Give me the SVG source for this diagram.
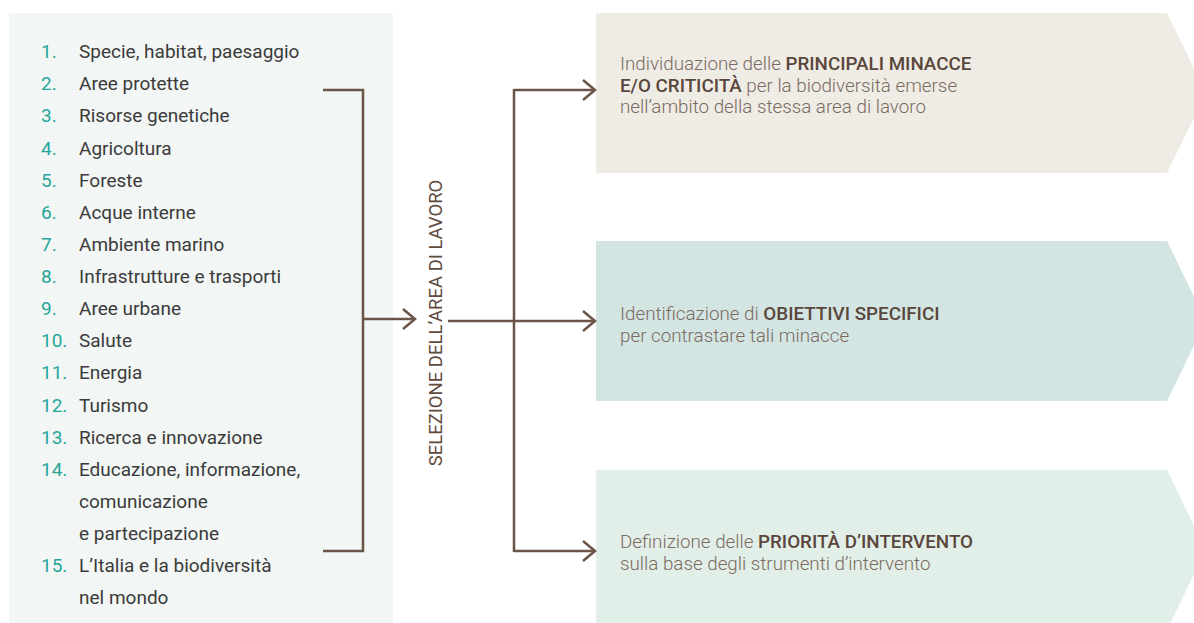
<svg xmlns="http://www.w3.org/2000/svg" width="1194" height="623" viewBox="0 0 1194 623">
  <style>
    .num { font-family: Roboto, "Liberation Sans", sans-serif; font-size: 19px; fill: #26a69a; }
    .item { font-family: Roboto, "Liberation Sans", sans-serif; font-size: 19px; fill: #3b3b3b; }
    .lbl { font-family: Roboto, "Liberation Sans", sans-serif; font-size: 18.5px; fill: #5f4a3e; }
    .bt { font-family: Roboto, "Liberation Sans", sans-serif; font-size: 18.8px; font-weight: 300; fill: #7a6a60; }
    .bt .b { font-weight: 500; fill: #5a463b; }
    .line { fill: none; stroke: #6b5548; stroke-width: 2.5; }
  </style>
  <defs>
    <marker id="arr" markerUnits="userSpaceOnUse" viewBox="0 0 16 24" refX="14" refY="12" markerWidth="16" markerHeight="24" orient="auto">
      <path d="M2,2 L14,12 L2,22" fill="none" stroke="#6b5548" stroke-width="2.5"/>
    </marker>
  </defs>

  <g id="areas">
    <rect x="9" y="13" width="384" height="610" fill="#f2f6f4"/>
    <text class="num" x="41" y="58">1.</text><text class="item" x="79" y="58">Specie, habitat, paesaggio</text>
    <text class="num" x="41" y="90">2.</text><text class="item" x="79" y="90">Aree protette</text>
    <text class="num" x="41" y="122">3.</text><text class="item" x="79" y="122">Risorse genetiche</text>
    <text class="num" x="41" y="154.5">4.</text><text class="item" x="79" y="154.5">Agricoltura</text>
    <text class="num" x="41" y="186.5">5.</text><text class="item" x="79" y="186.5">Foreste</text>
    <text class="num" x="41" y="219">6.</text><text class="item" x="79" y="219">Acque interne</text>
    <text class="num" x="41" y="251">7.</text><text class="item" x="79" y="251">Ambiente marino</text>
    <text class="num" x="41" y="283">8.</text><text class="item" x="79" y="283">Infrastrutture e trasporti</text>
    <text class="num" x="41" y="315">9.</text><text class="item" x="79" y="315">Aree urbane</text>
    <text class="num" x="41" y="347">10.</text><text class="item" x="79" y="347">Salute</text>
    <text class="num" x="41" y="379">11.</text><text class="item" x="79" y="379">Energia</text>
    <text class="num" x="41" y="411.5">12.</text><text class="item" x="79" y="411.5">Turismo</text>
    <text class="num" x="41" y="443.5">13.</text><text class="item" x="79" y="443.5">Ricerca e innovazione</text>
    <text class="num" x="41" y="475.5">14.</text><text class="item" x="79" y="475.5">Educazione, informazione,</text>
    <text class="item" x="79" y="507.5">comunicazione</text>
    <text class="item" x="79" y="539.5">e partecipazione</text>
    <text class="num" x="41" y="571.5">15.</text><text class="item" x="79" y="571.5">L’Italia e la biodiversità</text>
    <text class="item" x="79" y="603.5">nel mondo</text>
  </g>

  <g id="selezione">
    <text class="lbl" transform="translate(442,323) rotate(-90)" text-anchor="middle">SELEZIONE DELL’AREA DI LAVORO</text>
  </g>

  <g id="minacce">
    <polygon points="596,13 1167,13 1206,93 1167,173 596,173" fill="#efece6"/>
    <text class="bt" x="620" y="70"><tspan>Individuazione delle </tspan><tspan class="b">PRINCIPALI MINACCE</tspan></text>
    <text class="bt" x="620" y="91.5"><tspan class="b">E/O CRITICITÀ</tspan><tspan> per la biodiversità emerse</tspan></text>
    <text class="bt" x="620" y="113">nell’ambito della stessa area di lavoro</text>
  </g>

  <g id="obiettivi">
    <polygon points="596,241 1167,241 1206,321 1167,401 596,401" fill="#d3e5e3"/>
    <text class="bt" x="620" y="320"><tspan>Identificazione di </tspan><tspan class="b">OBIETTIVI SPECIFICI</tspan></text>
    <text class="bt" x="620" y="342">per contrastare tali minacce</text>
  </g>

  <g id="priorita">
    <polygon points="596,470 1167,470 1206,550 1167,630 596,630" fill="#e2efe8"/>
    <text class="bt" x="620" y="548"><tspan>Definizione delle </tspan><tspan class="b">PRIORITÀ D’INTERVENTO</tspan></text>
    <text class="bt" x="620" y="570">sulla base degli strumenti d’intervento</text>
  </g>

  <g id="connectors">
    <path class="line" d="M323,90 H363 V551 H323"/>
    <path class="line" d="M363,319 H415" marker-end="url(#arr)"/>
    <path class="line" d="M448,321 H595" marker-end="url(#arr)"/>
    <path class="line" d="M514,89 V552"/>
    <path class="line" d="M514,90 H595" marker-end="url(#arr)"/>
    <path class="line" d="M514,551 H595" marker-end="url(#arr)"/>
  </g>
</svg>
